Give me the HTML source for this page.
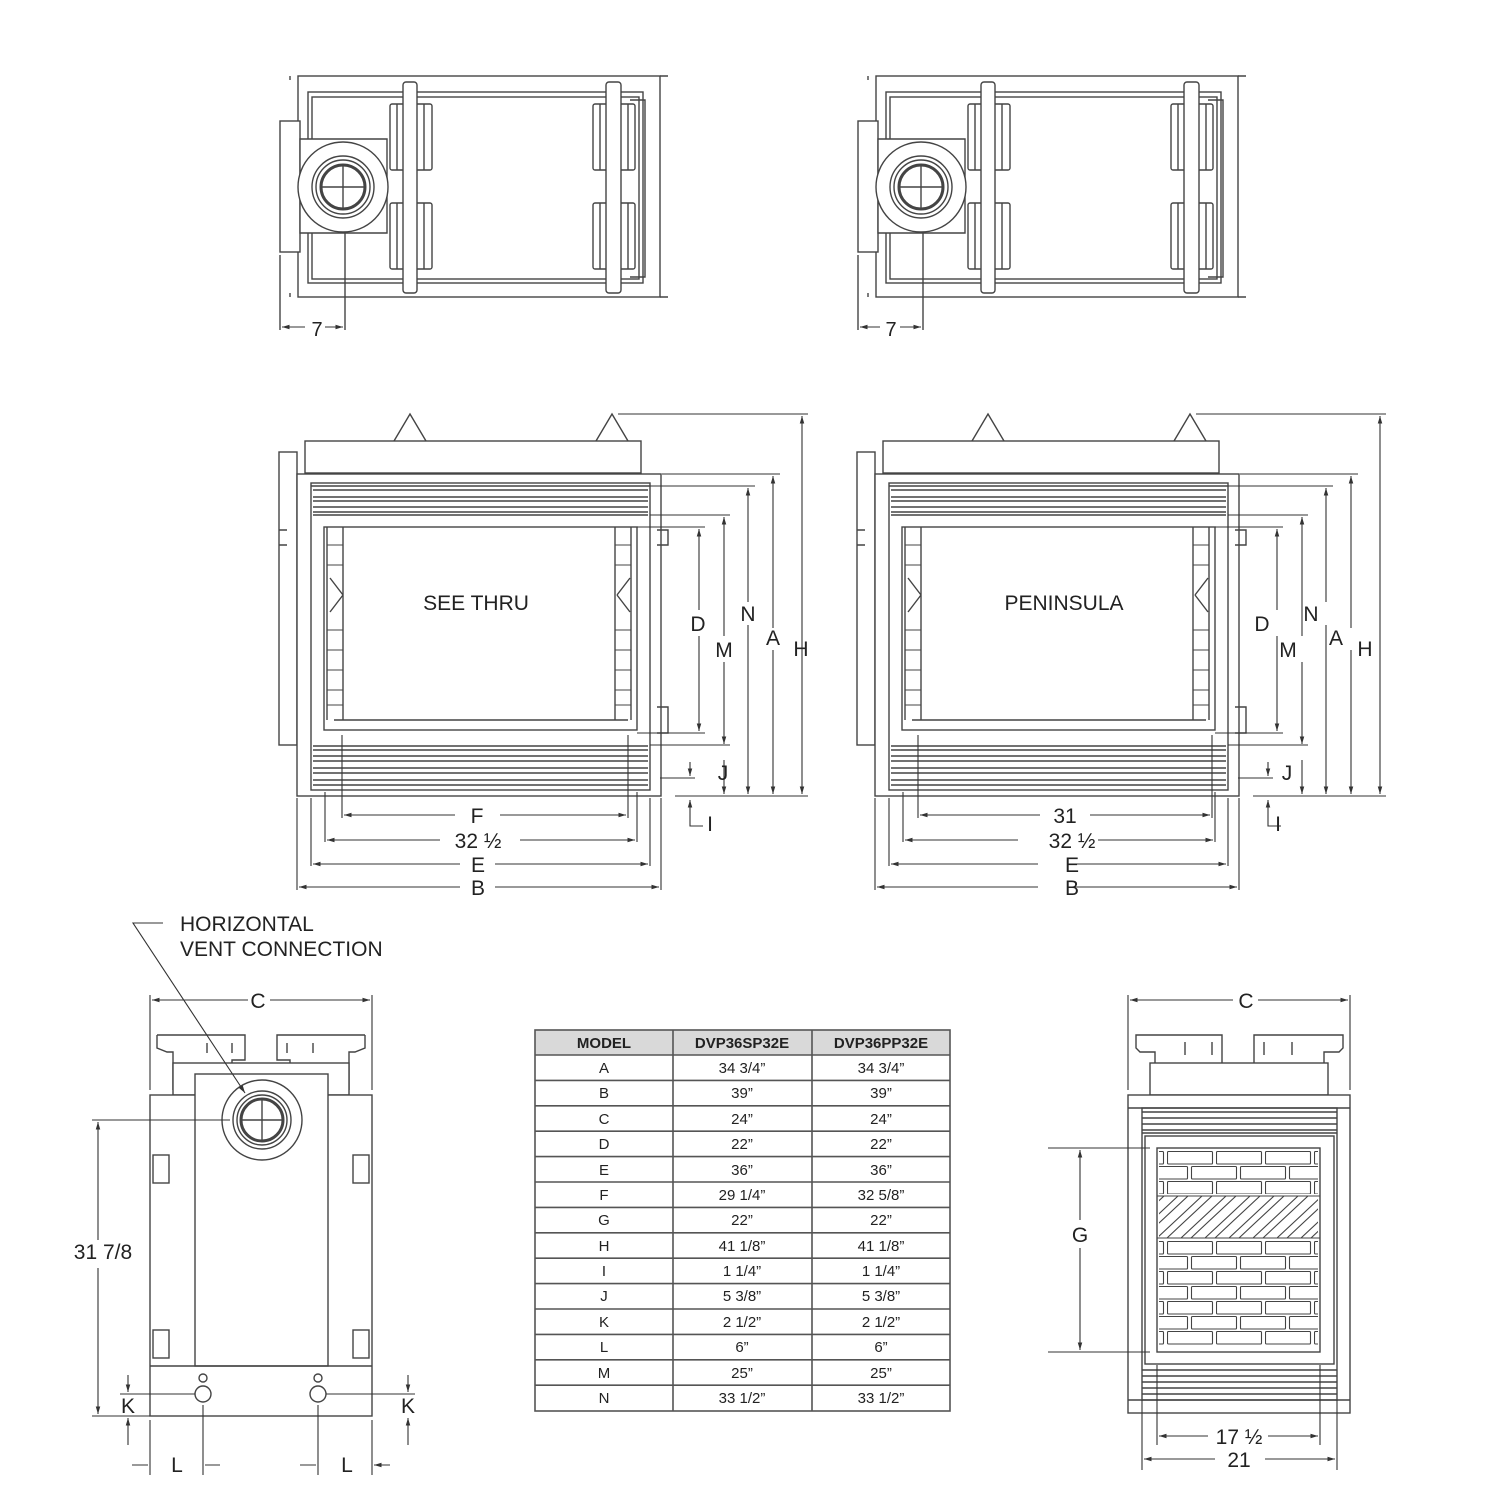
<!DOCTYPE html>
<html><head><meta charset="utf-8"><style>
html,body{margin:0;padding:0;background:#fff}
svg{display:block}
text{font-family:"Liberation Sans",sans-serif;fill:#222}
</style></head><body>
<svg id="s" width="1500" height="1500" viewBox="0 0 1500 1500" xmlns="http://www.w3.org/2000/svg">
<defs>
<marker id="ar" viewBox="0 0 10 10" refX="10" refY="5" markerWidth="7" markerHeight="7" orient="auto-start-reverse"><path d="M0,2 L10,5 L0,8 z" fill="#333"/></marker>
<pattern id="brk" patternUnits="userSpaceOnUse" x="1167" y="1151" width="49" height="30">
  <g fill="none" stroke="#444" stroke-width="1.1">
  <rect x="0.5" y="0.5" width="45" height="12.5" rx="1"/>
  <rect x="24.5" y="15.5" width="45" height="12.5" rx="1"/>
  <rect x="-24.5" y="15.5" width="45" height="12.5" rx="1"/>
  </g>
</pattern>
<pattern id="brk2" patternUnits="userSpaceOnUse" x="1167" y="1241" width="49" height="30">
  <g fill="none" stroke="#444" stroke-width="1.1">
  <rect x="0.5" y="0.5" width="45" height="12.5" rx="1"/>
  <rect x="24.5" y="15.5" width="45" height="12.5" rx="1"/>
  <rect x="-24.5" y="15.5" width="45" height="12.5" rx="1"/>
  </g>
</pattern>
<pattern id="herr" patternUnits="userSpaceOnUse" x="1157" y="1196" width="24" height="42">
  <g fill="none" stroke="#444" stroke-width="1.1">
  <path d="M-48 42 L-3 0 M-38 42 L7 0 M-24 42 L21 0 M-14 42 L31 0 M0 42 L45 0 M10 42 L55 0"/>
  </g>
</pattern>
<g id="plan" fill="none" stroke="#444" stroke-width="1.4">
  <rect x="298" y="76" width="362" height="221"/>
  <rect x="308" y="92" width="335" height="191"/>
  <rect x="312" y="97" width="327" height="182"/>
  <path d="M630 100 H645 V277 H630"/>
  <rect x="280" y="121" width="20" height="131" fill="#fff"/>
  <path d="M300 139 H387 V233 H300 Z" fill="#fff"/>
  <circle cx="343" cy="187" r="45" fill="#fff"/>
  <circle cx="343" cy="187" r="31"/>
  <circle cx="343" cy="187" r="27"/>
  <circle cx="343" cy="187" r="22" stroke-width="3"/>
  <path d="M321 187 H365 M343 165 V209"/>
  <rect x="390" y="104" width="42" height="66" rx="2" fill="#fff"/>
  <rect x="390" y="203" width="42" height="66" rx="2" fill="#fff"/>
  <rect x="403" y="82" width="14" height="211" rx="3" fill="#fff"/>
  <rect x="593" y="104" width="42" height="66" rx="2" fill="#fff"/>
  <rect x="593" y="203" width="42" height="66" rx="2" fill="#fff"/>
  <rect x="606" y="82" width="15" height="211" rx="3" fill="#fff"/>
  <path d="M397 104 V170 M424 104 V170 M397 203 V269 M424 203 V269 M600 104 V170 M628 104 V170 M600 203 V269 M628 203 V269"/>
  <path d="M290 76 V80 M290 293 V297 M660 76 H668 M660 297 H668" />
  <path d="M280 255 V330 M345 232 V330"/>
</g>
<g id="front" fill="none" stroke="#444" stroke-width="1.4">
  <path d="M394 441 L410 414 L426 441 M596 441 L612 414 L628 441"/>
  <rect x="305" y="441" width="336" height="32" fill="#fff"/>
  <rect x="279" y="452" width="18" height="293" fill="#fff"/>
  <rect x="297" y="474" width="364" height="322" fill="#fff"/>
  <rect x="311" y="483" width="339" height="307"/>
  <path d="M311 486 H650 M313 490 H648 M313 497 H648 M313 501 H648 M313 507 H648 M313 512 H648 M313 515 H648"/>
  <path d="M313 746 H648 M313 750 H648 M313 756 H648 M313 761 H648 M313 768 H648 M313 773 H648 M313 780 H648 M313 785 H648"/>
  <rect x="324" y="527" width="313" height="203"/>
  <path d="M334 720 H628"/>
  <path d="M327 527 V720 M343 527 V720 M615 527 V720 M631 527 V720"/>
  <path d="M330 578 L343 595 M330 612 L343 595 M630 578 L617 595 M630 612 L617 595"/>
  <path d="M327 545 H343 M327 565 H343 M327 630 H343 M327 650 H343 M327 670 H343 M327 690 H343 M327 705 H343 M615 545 H631 M615 565 H631 M615 630 H631 M615 650 H631 M615 670 H631 M615 690 H631 M615 705 H631" stroke-width="1"/>
  <path d="M657 530 H668 V545 H657 M657 707 H668 V733 H657"/>
  <path d="M287 530 H279 M287 545 H279"/>
</g>
<g id="frontdims" fill="none" stroke="#333" stroke-width="1.1">
  <path d="M618 414 H808 M662 474 H780 M650 486 H755 M650 515 H730 M637 527 H705 M637 733 H705 M650 745 H730 M675 796 H808 M660 778 H695"/>
  <path d="M802 416 V794" marker-start="url(#ar)" marker-end="url(#ar)"/>
  <path d="M773 476 V628 M773 650 V794" marker-start="url(#ar)" marker-end="url(#ar)"/>
  <path d="M748 488 V602 M748 625 V794" marker-start="url(#ar)" marker-end="url(#ar)"/>
  <path d="M724 517 V636 M724 662 V744" marker-start="url(#ar)" marker-end="url(#ar)"/>
  <path d="M699 529 V610 M699 636 V731" marker-start="url(#ar)" marker-end="url(#ar)"/>
  <path d="M724 760 V794" marker-end="url(#ar)"/>
  <path d="M690 762 V776" marker-end="url(#ar)"/>
  <path d="M690 815 V800" marker-end="url(#ar)"/>
  <path d="M690 815 V826 H703"/>
  <path d="M297 798 V890 M311 798 V866 M325 792 V842 M637 792 V842 M650 798 V866 M661 798 V890"/>
  <path d="M327 840 H440 M520 840 H635" marker-start="url(#ar)" marker-end="url(#ar)"/>
  <path d="M313 864 H460 M495 864 H648" marker-start="url(#ar)" marker-end="url(#ar)"/>
  <path d="M299 887 H460 M495 887 H659" marker-start="url(#ar)" marker-end="url(#ar)"/>
</g>
</defs>

<use href="#plan"/>
<use href="#plan" x="578"/>
<text x="317" y="336" font-size="20" text-anchor="middle">7</text>
<text x="891" y="336" font-size="20" text-anchor="middle">7</text>
<g stroke="#333" stroke-width="1.1" fill="none">
<path d="M282 327 H305 M325 327 H343" marker-start="url(#ar)" marker-end="url(#ar)" />
<path d="M860 327 H880 M900 327 H921" marker-start="url(#ar)" marker-end="url(#ar)" />
</g>

<use href="#front"/>
<use href="#front" x="578"/>
<use href="#frontdims"/>
<use href="#frontdims" x="578"/>
<g stroke="#333" stroke-width="1.1" fill="none">
<path d="M342 735 V818 M628 735 V818"/>
<path d="M344 815 H455 M500 815 H626" marker-start="url(#ar)" marker-end="url(#ar)"/>
<path d="M920 815 H1040 M1090 815 H1210" marker-start="url(#ar)" marker-end="url(#ar)"/>
<path d="M918 735 V818 M1212 735 V818"/>
</g>
<g font-size="21" text-anchor="middle">
<text x="476" y="610">SEE THRU</text>
<text x="1064" y="610">PENINSULA</text>
<text x="748" y="621">N</text><text x="773" y="645">A</text><text x="801" y="656">H</text><text x="698" y="631">D</text><text x="724" y="657">M</text><text x="723" y="780">J</text><text x="710" y="831">I</text>
<text x="1311" y="621">N</text><text x="1336" y="645">A</text><text x="1365" y="656">H</text><text x="1262" y="631">D</text><text x="1288" y="657">M</text><text x="1287" y="780">J</text><text x="1278" y="831">I</text>
<text x="477" y="823">F</text><text x="478" y="848">32 ½</text><text x="478" y="872">E</text><text x="478" y="895">B</text>
<text x="1065" y="823">31</text><text x="1072" y="848">32 ½</text><text x="1072" y="872">E</text><text x="1072" y="895">B</text>
</g>

<!-- bottom left -->
<g font-size="21">
<text x="180" y="931">HORIZONTAL</text>
<text x="180" y="956">VENT CONNECTION</text>
<text x="258" y="1008" text-anchor="middle">C</text>
<text x="103" y="1259" text-anchor="middle">31 7/8</text>
<text x="128" y="1413" text-anchor="middle">K</text>
<text x="408" y="1413" text-anchor="middle">K</text>
<text x="177" y="1472" text-anchor="middle">L</text>
<text x="347" y="1472" text-anchor="middle">L</text>
</g>
<g fill="none" stroke="#444" stroke-width="1.4">
<path d="M157 1035 H245 V1060 H232 V1072 M157 1035 V1048 L167 1052 H173 V1090"/>
<path d="M365 1035 H277 V1060 H290 V1072 M365 1035 V1048 L355 1052 H349 V1090"/>
<path d="M207 1043 V1053 M232 1043 V1053 M287 1043 V1053 M313 1043 V1053"/>
<rect x="173" y="1063" width="176" height="32" fill="#fff"/>
<rect x="150" y="1095" width="222" height="321" fill="#fff"/>
<rect x="195" y="1074" width="133" height="292" fill="#fff"/>
<path d="M150 1366 H372"/>
<circle cx="262" cy="1120" r="40"/><circle cx="262" cy="1120" r="29"/><circle cx="262" cy="1120" r="25"/><circle cx="262" cy="1120" r="21" stroke-width="3"/>
<path d="M241 1120 H283 M262 1099 V1141"/>
<rect x="153" y="1155" width="16" height="28"/><rect x="353" y="1155" width="16" height="28"/>
<rect x="153" y="1330" width="16" height="28"/><rect x="353" y="1330" width="16" height="28"/>
<circle cx="203" cy="1394" r="8"/><circle cx="318" cy="1394" r="8"/><circle cx="203" cy="1378" r="4"/><circle cx="318" cy="1378" r="4"/>
</g>
<g fill="none" stroke="#333" stroke-width="1.1">
<path d="M163 923 H133 L245 1093" marker-end="url(#ar)"/>
<path d="M150 995 V1090 M372 995 V1090"/>
<path d="M152 1000 H248 M270 1000 H370" marker-start="url(#ar)" marker-end="url(#ar)"/>
<path d="M92 1120 H230 M92 1416 H150"/>
<path d="M98 1122 V1240 M98 1268 V1414" marker-start="url(#ar)" marker-end="url(#ar)"/>
<path d="M120 1394 H195 M326 1394 H415"/>
<path d="M128 1375 V1392" marker-end="url(#ar)"/><path d="M128 1445 V1418" marker-end="url(#ar)"/>
<path d="M408 1375 V1392" marker-end="url(#ar)"/><path d="M408 1445 V1418" marker-end="url(#ar)"/>
<path d="M150 1420 V1475 M203 1405 V1475 M318 1405 V1475 M372 1420 V1475"/>
<path d="M132 1465 H148 M220 1465 H205 M300 1465 H316 M390 1465 H374" marker-end="url(#ar)"/>
</g>

<!-- table -->
<g id="tbl">
<rect x="535" y="1030" width="415" height="25" fill="#d9d9d9"/>
<g stroke="#555" stroke-width="1.6" fill="none">
<rect x="535" y="1030" width="415" height="381"/>
<path d="M673 1030 V1411 M812 1030 V1411"/>
<path d="M535 1055 H950 M535 1080.4 H950 M535 1105.8 H950 M535 1131.2 H950 M535 1156.6 H950 M535 1182 H950 M535 1207.4 H950 M535 1232.8 H950 M535 1258.2 H950 M535 1283.6 H950 M535 1309 H950 M535 1334.4 H950 M535 1359.8 H950 M535 1385.2 H950"/>
</g>
<g font-size="15" text-anchor="middle">
<text x="604" y="1048" font-weight="bold">MODEL</text><text x="742" y="1048" font-weight="bold">DVP36SP32E</text><text x="881" y="1048" font-weight="bold">DVP36PP32E</text>
<text x="604" y="1073">A</text><text x="742" y="1073">34 3/4”</text><text x="881" y="1073">34 3/4”</text>
<text x="604" y="1098">B</text><text x="742" y="1098">39”</text><text x="881" y="1098">39”</text>
<text x="604" y="1124">C</text><text x="742" y="1124">24”</text><text x="881" y="1124">24”</text>
<text x="604" y="1149">D</text><text x="742" y="1149">22”</text><text x="881" y="1149">22”</text>
<text x="604" y="1175">E</text><text x="742" y="1175">36”</text><text x="881" y="1175">36”</text>
<text x="604" y="1200">F</text><text x="742" y="1200">29 1/4”</text><text x="881" y="1200">32 5/8”</text>
<text x="604" y="1225">G</text><text x="742" y="1225">22”</text><text x="881" y="1225">22”</text>
<text x="604" y="1251">H</text><text x="742" y="1251">41 1/8”</text><text x="881" y="1251">41 1/8”</text>
<text x="604" y="1276">I</text><text x="742" y="1276">1 1/4”</text><text x="881" y="1276">1 1/4”</text>
<text x="604" y="1301">J</text><text x="742" y="1301">5 3/8”</text><text x="881" y="1301">5 3/8”</text>
<text x="604" y="1327">K</text><text x="742" y="1327">2 1/2”</text><text x="881" y="1327">2 1/2”</text>
<text x="604" y="1352">L</text><text x="742" y="1352">6”</text><text x="881" y="1352">6”</text>
<text x="604" y="1378">M</text><text x="742" y="1378">25”</text><text x="881" y="1378">25”</text>
<text x="604" y="1403">N</text><text x="742" y="1403">33 1/2”</text><text x="881" y="1403">33 1/2”</text>
</g>
</g>

<!-- bottom right -->
<g fill="none" stroke="#444" stroke-width="1.4">
<path d="M1222 1063 V1035 H1136 V1048 L1140 1052 H1155 V1063"/>
<path d="M1254 1063 V1035 H1343 V1048 L1339 1052 H1324 V1063"/>
<path d="M1185 1042 V1055 M1212 1042 V1055 M1264 1042 V1055 M1292 1042 V1055"/>
<rect x="1150" y="1063" width="178" height="32" fill="#fff"/>
<rect x="1128" y="1095" width="222" height="318" fill="#fff"/>
<path d="M1128 1108 H1350 M1128 1400 H1350"/>
<rect x="1142" y="1108" width="195" height="292"/>
<path d="M1142 1112 H1337 M1142 1118 H1337 M1142 1124 H1337 M1142 1130 H1337 M1142 1133 H1337"/>
<path d="M1142 1370 H1337 M1142 1376 H1337 M1142 1382 H1337 M1142 1388 H1337 M1142 1394 H1337"/>
<rect x="1145" y="1136" width="189" height="228"/>
<rect x="1157" y="1148" width="163" height="204"/>
</g>
<rect x="1159" y="1151" width="159" height="43" fill="url(#brk)"/>
<rect x="1159" y="1196" width="159" height="42" fill="url(#herr)"/>
<rect x="1159" y="1241" width="159" height="104" fill="url(#brk2)"/>
<path d="M1157 1196 H1320 M1157 1238 H1320" stroke="#444" stroke-width="1.1" fill="none"/>
<g fill="none" stroke="#333" stroke-width="1.1">
<path d="M1128 995 V1090 M1350 995 V1090"/>
<path d="M1130 1000 H1233 M1258 1000 H1348" marker-start="url(#ar)" marker-end="url(#ar)"/>
<path d="M1048 1148 H1150 M1048 1352 H1150"/>
<path d="M1080 1150 V1220 M1080 1248 V1350" marker-start="url(#ar)" marker-end="url(#ar)"/>
<path d="M1142 1400 V1470 M1337 1400 V1470 M1157 1365 V1445 M1320 1365 V1445"/>
<path d="M1159 1436 H1208 M1268 1436 H1318" marker-start="url(#ar)" marker-end="url(#ar)"/>
<path d="M1144 1459 H1215 M1265 1459 H1335" marker-start="url(#ar)" marker-end="url(#ar)"/>
</g>
<g font-size="21" text-anchor="middle">
<text x="1246" y="1008">C</text>
<text x="1080" y="1242">G</text>
<text x="1239" y="1444">17 ½</text>
<text x="1239" y="1467">21</text>
</g>
</svg>
</body></html>
